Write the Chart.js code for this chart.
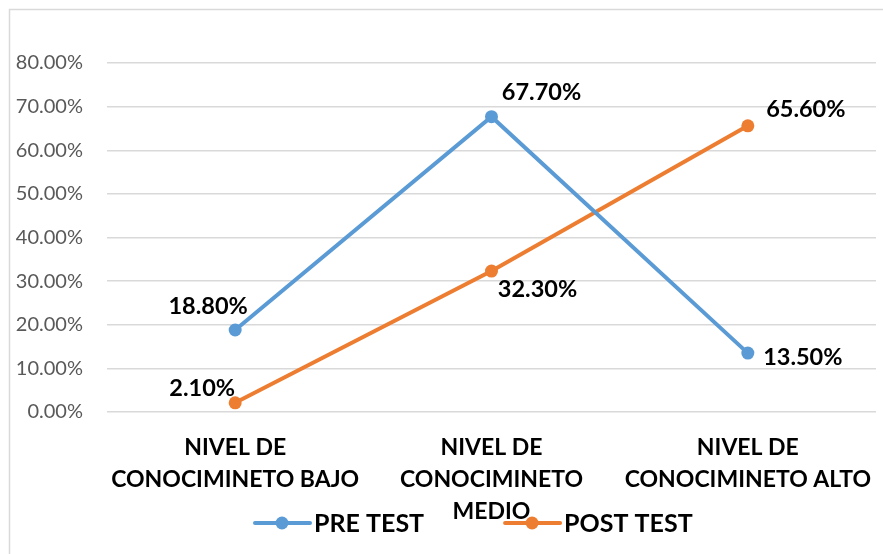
<!DOCTYPE html>
<html>
<head>
<meta charset="utf-8">
<script src="https://cdn.jsdelivr.net/npm/chart.js@4.4.0/dist/chart.umd.min.js"></script>
<style>
  html, body { margin: 0; padding: 0; background: #fff; }
  #wrap { width: 883px; height: 554px; }
</style>
</head>
<body>
<div id="wrap"><canvas id="chart" width="883" height="554"></canvas></div>
<script>
// data
const categories = [
    ["NIVEL DE", "CONOCIMINETO BAJO"],
    ["NIVEL DE", "CONOCIMINETO", "MEDIO"],
    ["NIVEL DE", "CONOCIMINETO ALTO"]
];
const preTest = [18.8, 67.7, 13.5];
const postTest = [2.1, 32.3, 65.6];
const yTicks = [0, 10, 20, 30, 40, 50, 60, 70, 80];

const BLUE = "#5B9BD5";
const ORANGE = "#ED7D31";

// where each value label sits relative to its point (dx, dy)
const labelOffsets = [
    [[-27, -24], [50, -24], [55, 4]],
    [[-33, -14], [46, 18], [58, -16]]
];

const extras = {
    id: "extras",
    beforeDraw(chart) {
        const ctx = chart.ctx;
        ctx.save();
        ctx.strokeStyle = "#d9d9d9";
        ctx.lineWidth = 1.5;
        ctx.strokeRect(9.5, 9.5, 1000, 1000);
        ctx.restore();
    },
    afterDatasetsDraw(chart) {
        const ctx = chart.ctx;
        ctx.save();
        ctx.font = "bold 23.5px Lato";
        ctx.fillStyle = "#000";
        ctx.textAlign = "center";
        ctx.textBaseline = "middle";
        chart.data.datasets.forEach((ds, i) => {
            const meta = chart.getDatasetMeta(i);
            meta.data.forEach((pt, j) => {
                const off = labelOffsets[i][j];
                ctx.fillText(ds.data[j].toFixed(2) + "%", pt.x + off[0], pt.y + off[1]);
            });
        });

        // legend
        const ly = 523;
        let lx = 255;
        ctx.font = "bold 25px Lato";
        ctx.textAlign = "left";
        chart.data.datasets.forEach((ds) => {
            ctx.strokeStyle = ds.borderColor;
            ctx.lineWidth = 4;
            ctx.lineCap = "round";
            ctx.beginPath();
            ctx.moveTo(lx, ly);
            ctx.lineTo(lx + 55, ly);
            ctx.stroke();
            ctx.fillStyle = ds.borderColor;
            ctx.beginPath();
            ctx.arc(lx + 27, ly, 6.5, 0, Math.PI * 2);
            ctx.fill();
            ctx.fillStyle = "#000";
            ctx.fillText(ds.label, lx + 59, ly + 1);
            lx += 59 + ctx.measureText(ds.label).width + 81;
        });
        ctx.restore();
    }
};

new Chart(document.getElementById("chart"), {
    type: "line",
    data: {
        labels: categories,
        datasets: [
            {
                label: "PRE TEST",
                data: preTest,
                borderColor: BLUE,
                backgroundColor: BLUE,
                borderWidth: 4,
                pointRadius: 6.5,
                pointHoverRadius: 6.5,
                pointBorderWidth: 0,
                tension: 0
            },
            {
                label: "POST TEST",
                data: postTest,
                borderColor: ORANGE,
                backgroundColor: ORANGE,
                borderWidth: 4,
                pointRadius: 6.5,
                pointHoverRadius: 6.5,
                pointBorderWidth: 0,
                tension: 0
            }
        ]
    },
    options: {
        responsive: false,
        animation: false,
        layout: { padding: { top: 63, right: 7, left: 0, bottom: 0 } },
        plugins: {
            legend: { display: false },
            tooltip: { enabled: false }
        },
        scales: {
            x: {
                offset: true,
                grid: { display: false },
                border: { display: false },
                ticks: {
                    color: "#000",
                    font: { family: "Lato", size: 23, weight: "bold", lineHeight: 1.39 },
                    padding: 12,
                    maxRotation: 0,
                    autoSkip: false
                },
                afterFit(scale) {
                    scale.height = 142;
                    scale.paddingLeft = 0;
                    scale.paddingRight = 0;
                }
            },
            y: {
                min: 0,
                max: 80,
                afterBuildTicks(scale) { scale.ticks = yTicks.map(v => ({ value: v })); },
                grid: { color: "#d9d9d9", lineWidth: 1.5, drawTicks: false },
                border: { display: false },
                ticks: {
                    color: "#595959",
                    font: { family: "Lato", size: 20 },
                    padding: 24,
                    callback: v => v.toFixed(2) + "%"
                },
                afterFit(scale) { scale.width = 107; }
            }
        }
    },
    plugins: [extras]
});
</script>
</body>
</html>
